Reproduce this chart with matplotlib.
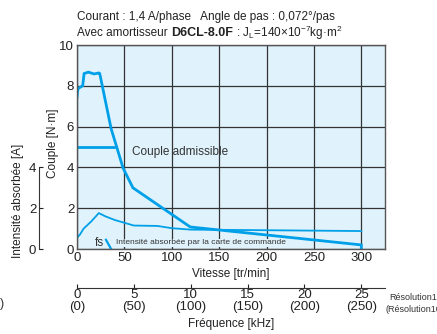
import matplotlib
matplotlib.use("Agg")
import matplotlib.pyplot as plt

plt.rcParams['font.family'] = ['Liberation Sans', 'DejaVu Sans']

BLUE = "#00a0e9"
BG = "#e0f3fc"

# pull-out torque [N.m] vs speed [r/min]
speed_torque = [0, 1, 4, 6, 7.5, 12, 18, 23, 24, 36, 48.6, 59, 119.5, 300, 300]
torque = [7.45, 7.85, 7.95, 8.0, 8.6, 8.67, 8.58, 8.63, 8.6, 5.9, 3.97, 3.0, 1.08, 0.2, 0.0]

# admissible torque
speed_adm = [0, 41]
torque_adm = [5.0, 5.0]

# current [A]
speed_cur = [0, 3, 7, 15, 23, 30, 40, 60, 85, 100, 120, 200, 300]
current = [0.55, 0.7, 1.0, 1.35, 1.76, 1.6, 1.42, 1.15, 1.13, 1.02, 0.95, 0.92, 0.88]

# fs mark
speed_fs = [30.6, 36]
cur_fs = [0.45, 0.0]

speed_ticks = [0, 50, 100, 150, 200, 250, 300]
torque_ticks = [0, 2, 4, 6, 8, 10]
cur_ticks = [0, 2, 4]
freq_khz = [0, 5, 10, 15, 20, 25]
freq_res10 = [0, 50, 100, 150, 200, 250]

W, H = 437, 334
fig = plt.figure(figsize=(W / 100, H / 100), dpi=100)

def box(x0, y0, x1, y1):
    return [x0 / W, 1 - y1 / H, (x1 - x0) / W, (y1 - y0) / H]

ax = fig.add_axes(box(77, 45, 385, 249))
ax.set_facecolor(BG)
ax.set_xlim(0, 325)
ax.set_ylim(0, 10)
ax.set_xticks(speed_ticks)
ax.set_yticks(torque_ticks)
ax.tick_params(length=0, labelsize=9.5, pad=2, colors="#222")
ax.grid(True, color="#333", lw=0.9)
ax.set_axisbelow(True)
for s in ax.spines.values():
    s.set_color("#555")
    s.set_linewidth(1.0)

ax.plot(speed_torque, torque, color=BLUE, lw=2.0, solid_joinstyle="miter")
ax.plot(speed_adm, torque_adm, color=BLUE, lw=2.0)
ax.plot(speed_cur, current, color=BLUE, lw=1.3)
ax.plot(speed_fs, cur_fs, color=BLUE, lw=1.6)

ax.text(58, 4.75, "Couple admissible", fontsize=8.5, color="#333", va="center")
ax.text(19, 0.02, "fs", fontsize=8.5, color="#333", va="bottom")
ax.text(41, 0.3, "Intensité absorbée par la carte de commande", fontsize=6,
        color="#333", va="center",
        bbox=dict(facecolor=BG, edgecolor="none", pad=0.5))

ax.set_xlabel("Vitesse [tr/min]", fontsize=8.5, labelpad=3, color="#222")
fig.text(53 / W, 1 - 143 / H, "Couple [N·m]", fontsize=8.5, rotation=90,
         ha="center", va="center", color="#222")

# current axis on the far left
axc = fig.add_axes(box(39, 45, 40, 249))
axc.set_ylim(0, 10)
axc.set_xticks([])
axc.set_yticks(cur_ticks)
axc.patch.set_visible(False)
for k in ("top", "right", "bottom"):
    axc.spines[k].set_visible(False)
axc.spines["left"].set_bounds(0, 4)
axc.spines["left"].set_color("#333")
axc.tick_params(axis="y", direction="in", length=3, labelsize=9.5, pad=2, colors="#222")
fig.text(18 / W, 1 - 201 / H, "Intensité absorbée [A]", fontsize=8.5, rotation=90,
         ha="center", va="center", color="#222")

# frequency axis at the bottom
axf = fig.add_axes(box(77, 287, 385, 288))
axf.set_xlim(0, 25 * 325 / 300)
axf.set_yticks([])
axf.patch.set_visible(False)
for k in ("top", "right", "left"):
    axf.spines[k].set_visible(False)
axf.spines["bottom"].set_color("#333")
axf.set_xticks(freq_khz)
axf.set_xticklabels([f"{k}\n({r})" for k, r in zip(freq_khz, freq_res10)],
                    fontsize=9.5, linespacing=0.95)
axf.tick_params(axis="x", direction="in", length=3, pad=1, colors="#222")
axf.set_xlabel("Fréquence [kHz]", fontsize=8.5, labelpad=4, color="#222")

fig.text(389 / W, 1 - 298 / H, "Résolution1", fontsize=6.5, color="#333", va="center")
fig.text(385 / W, 1 - 310 / H, "(Résolution10)", fontsize=6.5, color="#333", va="center")
fig.text(0, 1 - 304 / H, ")", fontsize=9, color="#333", va="center")

# header
fig.text(77 / W, 1 - 17 / H, "Courant : 1,4 A/phase   Angle de pas : 0,072°/pas",
         fontsize=8.5, color="#222", va="center")
t1 = fig.text(77 / W, 1 - 33 / H, "Avec amortisseur ", fontsize=8.5, color="#222", va="center")
fig.canvas.draw()
r = fig.canvas.get_renderer()
bb = t1.get_window_extent(r)
t2 = fig.text(bb.x1 / W, 1 - 33 / H, "D6CL-8.0F", fontsize=9, fontweight="bold",
              color="#222", va="center")
bb2 = t2.get_window_extent(r)
fig.text(bb2.x1 / W, 1 - 33 / H, r" : J$_\mathregular{L}$=140×10$^\mathregular{-7}$kg·m$^\mathregular{2}$",
         fontsize=8.5, color="#222", va="center")

fig.savefig("out.png", dpi=100)
